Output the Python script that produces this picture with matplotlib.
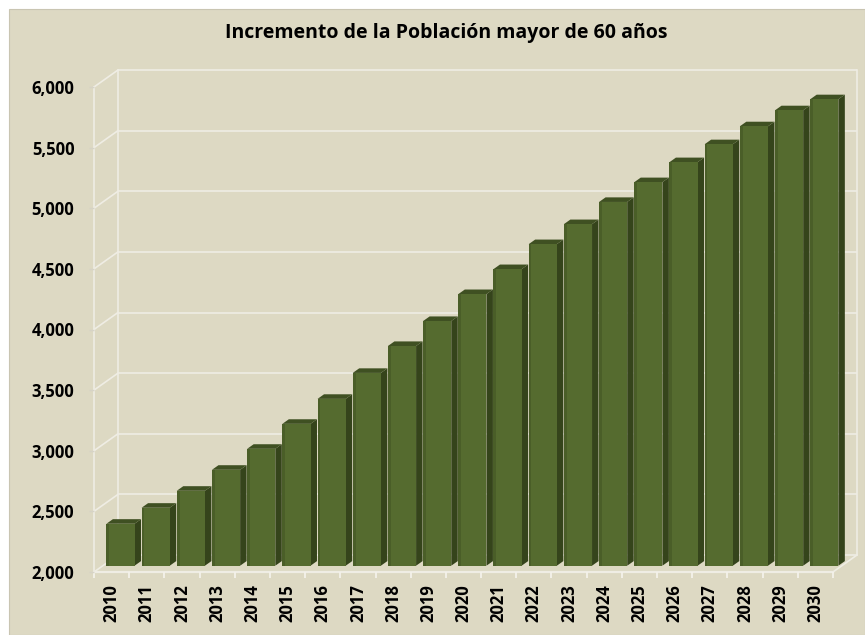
import matplotlib
matplotlib.use("Agg")
import matplotlib.pyplot as plt
from matplotlib.patches import Rectangle
import numpy as np

# ── data ──────────────────────────────────────────────────────────
years = [str(y) for y in range(2010, 2031)]
poblacion = [2346, 2478, 2618, 2791, 2964, 3170, 3376, 3590, 3812, 4018,
             4240, 4446, 4652, 4817, 5000, 5163, 5328, 5476, 5624, 5756, 5847]
y_ticks = [2000, 2500, 3000, 3500, 4000, 4500, 5000, 5500, 6000]
y_labels = ["{:,}".format(v) for v in y_ticks]
title = "Incremento de la Población mayor de 60 años"

# ── style ─────────────────────────────────────────────────────────
plt.rcParams["font.family"] = ["Open Sans", "DejaVu Sans"]
BG = "#ddd9c3"
GRID = "#efede4"
FRONT = "#556b2f"
SIDE = "#35441b"
TOP = "#3f5022"

W, H = 865, 635
fig = plt.figure(figsize=(W / 100, H / 100), dpi=100)
fig.patch.set_facecolor("white")
fig.patches.append(Rectangle((9 / W, 0), 1 - 9 / W, 1 - 9 / H,
                             transform=fig.transFigure, facecolor=BG,
                             edgecolor="#c9c5b2", linewidth=0.8, zorder=-10))

x0, x1, yb, yt = 94, 833, 572, 87
ax = fig.add_axes([x0 / W, 1 - yb / H, (x1 - x0) / W, (yb - yt) / H])
ax.set_facecolor("none")
n = len(years)
ax.set_xlim(-0.5, n - 0.5)
ax.set_ylim(2000, 6000)

# pixel -> data conversions for the fake 3D depth
px_x = (x1 - x0) / n
px_y = (yb - yt) / 4000
DX, DY = 24 / px_x, 17 / px_y          # full floor depth
f_front, f_depth = 0.37, 0.27
fdx, fdy = DX * f_front, DY * f_front
bdx, bdy = DX * f_depth, DY * f_depth

# walls / grid
lo, hi = -0.5, n - 0.5
for t in y_ticks:
    ax.plot([lo + DX, hi + DX], [t + DY, t + DY], color=GRID, lw=1.2,
            zorder=1, clip_on=False, solid_capstyle="butt")
    ax.plot([lo, lo + DX], [t, t + DY], color=GRID, lw=1.2, zorder=1,
            clip_on=False)
ax.plot([lo, lo], [2000, 6000], color=GRID, lw=1.2, zorder=1, clip_on=False)
ax.plot([lo + DX, lo + DX], [2000 + DY, 6000 + DY], color=GRID, lw=1.2,
        zorder=1, clip_on=False)
ax.plot([hi + DX, hi + DX], [2000 + DY, 6000 + DY], color=GRID, lw=1.2,
        zorder=1, clip_on=False)
ax.plot([lo, hi], [2000, 2000], color=GRID, lw=1.6, zorder=1, clip_on=False)
ax.plot([hi, hi + DX], [2000, 2000 + DY], color=GRID, lw=1.2, zorder=1,
        clip_on=False)

# bars
xs = np.arange(n)
bw = 0.8
vals = np.array(poblacion, dtype=float)
for i, v in enumerate(vals):
    z = 3 + i * 0.01
    left = xs[i] - bw / 2 + fdx
    right = xs[i] + bw / 2 + fdx
    base = 2000 + fdy
    top = v + fdy
    ax.fill([right, right + bdx, right + bdx, right],
            [base, base + bdy, top + bdy, top],
            color=SIDE, lw=0, zorder=z, clip_on=False)
    ax.fill([left, right, right + bdx, left + bdx],
            [top, top, top + bdy, top + bdy],
            color=TOP, lw=0, zorder=z, clip_on=False)
    ax.bar(xs[i] + fdx, v - 2000, bottom=base, width=bw, color=FRONT,
           lw=0, zorder=z + 0.001, clip_on=False)
    ax.bar(xs[i] + fdx - bw / 2 + 0.04, v - 2000, bottom=base, width=0.08,
           color="#4a5e28", lw=0, zorder=z + 0.002, clip_on=False)

for s in ax.spines.values():
    s.set_visible(False)

ax.set_yticks(y_ticks)
ax.set_yticklabels(y_labels, fontsize=12, fontweight="bold")
ax.tick_params(axis="y", length=3.6, width=1, color="#d6d3c6", pad=10.5)

ax.set_xticks(xs)
ax.set_xticklabels(years, rotation=90, fontsize=12, fontweight="bold")
ax.set_xticks(np.arange(n + 1) - 0.5, minor=True)
ax.tick_params(axis="x", which="major", length=0, pad=9)
ax.tick_params(axis="x", which="minor", length=4, width=1.3, color="#f4f2ea")

fig.text(446 / W, 1 - 33 / H, title, ha="center", va="center",
         fontsize=14, fontweight="bold")

fig.savefig("out.png", dpi=100, facecolor="white")
